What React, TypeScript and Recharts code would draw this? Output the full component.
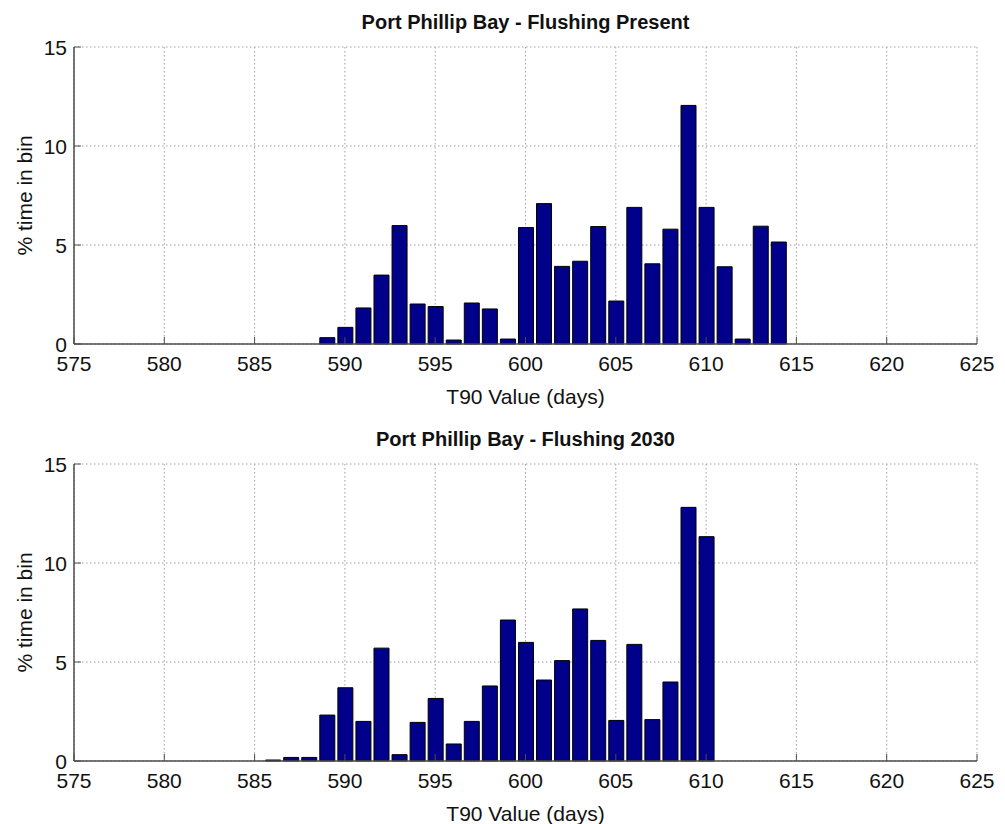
import { BarChart, Bar, XAxis, YAxis, CartesianGrid } from "recharts"

const xTicks = [575, 580, 585, 590, 595, 600, 605, 610, 615, 620, 625]
const yTicks = [0, 5, 10, 15]

const presentBins = [
  589, 590, 591, 592, 593, 594, 595, 596, 597, 598, 599, 600, 601,
  602, 603, 604, 605, 606, 607, 608, 609, 610, 611, 612, 613, 614,
]
const presentValues = [
  0.32, 0.84, 1.82, 3.48, 5.98, 2.02, 1.89, 0.2, 2.07, 1.77, 0.25, 5.88, 7.09,
  3.92, 4.18, 5.93, 2.17, 6.9, 4.05, 5.8, 12.05, 6.9, 3.9, 0.25, 5.95, 5.15,
]

const bins2030 = [
  586, 587, 588, 589, 590, 591, 592, 593, 594, 595, 596, 597, 598,
  599, 600, 601, 602, 603, 604, 605, 606, 607, 608, 609, 610,
]
const values2030 = [
  0.05, 0.18, 0.18, 2.32, 3.7, 2.0, 5.7, 0.32, 1.95, 3.16, 0.86, 2.0, 3.79,
  7.12, 5.99, 4.09, 5.07, 7.68, 6.09, 2.05, 5.89, 2.09, 3.99, 12.81, 11.33,
]

const FONT = "'Liberation Sans', Arial, Helvetica, sans-serif"
const AXIS = "#4d4d4d"

const BottomTick = (props: any) => {
  const { x, y, payload } = props
  return (
    <g>
      <line x1={x} x2={x} y1={y} y2={y - 7} stroke={AXIS} />
      <text x={x} y={y + 27} textAnchor="middle" fontSize={21} fill="#111" fontFamily={FONT}>
        {payload.value}
      </text>
    </g>
  )
}

const TopTick = (props: any) => {
  const { x, y } = props
  return <line x1={x} x2={x} y1={y} y2={y + 7} stroke={AXIS} />
}

const LeftTick = (props: any) => {
  const { x, y, payload } = props
  return (
    <g>
      <line x1={x} x2={x + 7} y1={y} y2={y} stroke={AXIS} />
      <text x={x - 7} y={y + 7.5} textAnchor="end" fontSize={21} fill="#111" fontFamily={FONT}>
        {payload.value}
      </text>
    </g>
  )
}

const RightTick = (props: any) => {
  const { x, y } = props
  return <line x1={x} x2={x - 7} y1={y} y2={y} stroke={AXIS} />
}

function Histogram({ title, bins, values }: { title: string; bins: number[]; values: number[] }) {
  const data = bins.map((bin, i) => ({ bin, value: values[i] }))
  return (
    <div style={{ position: "relative", width: 1005, height: 417 }}>
      <div
        style={{
          position: "absolute",
          top: 12,
          left: 74,
          width: 903,
          textAlign: "center",
          fontSize: 20,
          lineHeight: "20px",
          fontWeight: "bold",
          fontFamily: FONT,
          color: "#111",
        }}
      >
        {title}
      </div>
      <BarChart
        width={1005}
        height={417}
        data={data}
        margin={{ top: 47, right: 28, bottom: 13, left: 14 }}
        style={{ position: "absolute", top: 0, left: 0 }}
      >
        <CartesianGrid stroke="#a0a0a0" strokeDasharray="1.5 2.5" />
        <XAxis
          dataKey="bin"
          type="number"
          domain={[575, 625]}
          ticks={xTicks}
          height={60}
          tickSize={0}
          tickMargin={0}
          tickLine={false}
          axisLine={{ stroke: AXIS, strokeWidth: 1.5 }}
          tick={<BottomTick />}
          label={{
            value: "T90 Value (days)",
            position: "insideTop",
            offset: 45,
            fontSize: 21,
            fill: "#111",
            fontFamily: FONT,
          }}
        />
        <XAxis
          xAxisId="top"
          orientation="top"
          dataKey="bin"
          type="number"
          domain={[575, 625]}
          ticks={xTicks}
          height={0}
          tickSize={0}
          tickMargin={0}
          tickLine={false}
          axisLine={{ stroke: AXIS, strokeWidth: 1.5 }}
          tick={<TopTick />}
        />
        <YAxis
          domain={[0, 15]}
          ticks={yTicks}
          width={60}
          tickSize={0}
          tickMargin={0}
          tickLine={false}
          axisLine={{ stroke: AXIS, strokeWidth: 1.5 }}
          tick={<LeftTick />}
          label={{
            value: "% time in bin",
            angle: -90,
            position: "insideLeft",
            offset: 11,
            fontSize: 21,
            fill: "#111",
            fontFamily: FONT,
            style: { textAnchor: "middle" },
          }}
        />
        <YAxis
          yAxisId="right"
          orientation="right"
          domain={[0, 15]}
          ticks={yTicks}
          width={0}
          tickSize={0}
          tickMargin={0}
          tickLine={false}
          axisLine={{ stroke: AXIS, strokeWidth: 1.5 }}
          tick={<RightTick />}
        />
        <Bar dataKey="value" barSize={15} fill="#00008B" stroke="#000" strokeWidth={1} isAnimationActive={false} />
      </BarChart>
    </div>
  )
}

export default function App() {
  return (
    <div
      style={{
        position: "absolute",
        top: 0,
        left: 0,
        width: 1005,
        height: 834,
        background: "#fff",
      }}
    >
      <Histogram title="Port Phillip Bay - Flushing Present" bins={presentBins} values={presentValues} />
      <Histogram title="Port Phillip Bay - Flushing 2030" bins={bins2030} values={values2030} />
    </div>
  )
}
